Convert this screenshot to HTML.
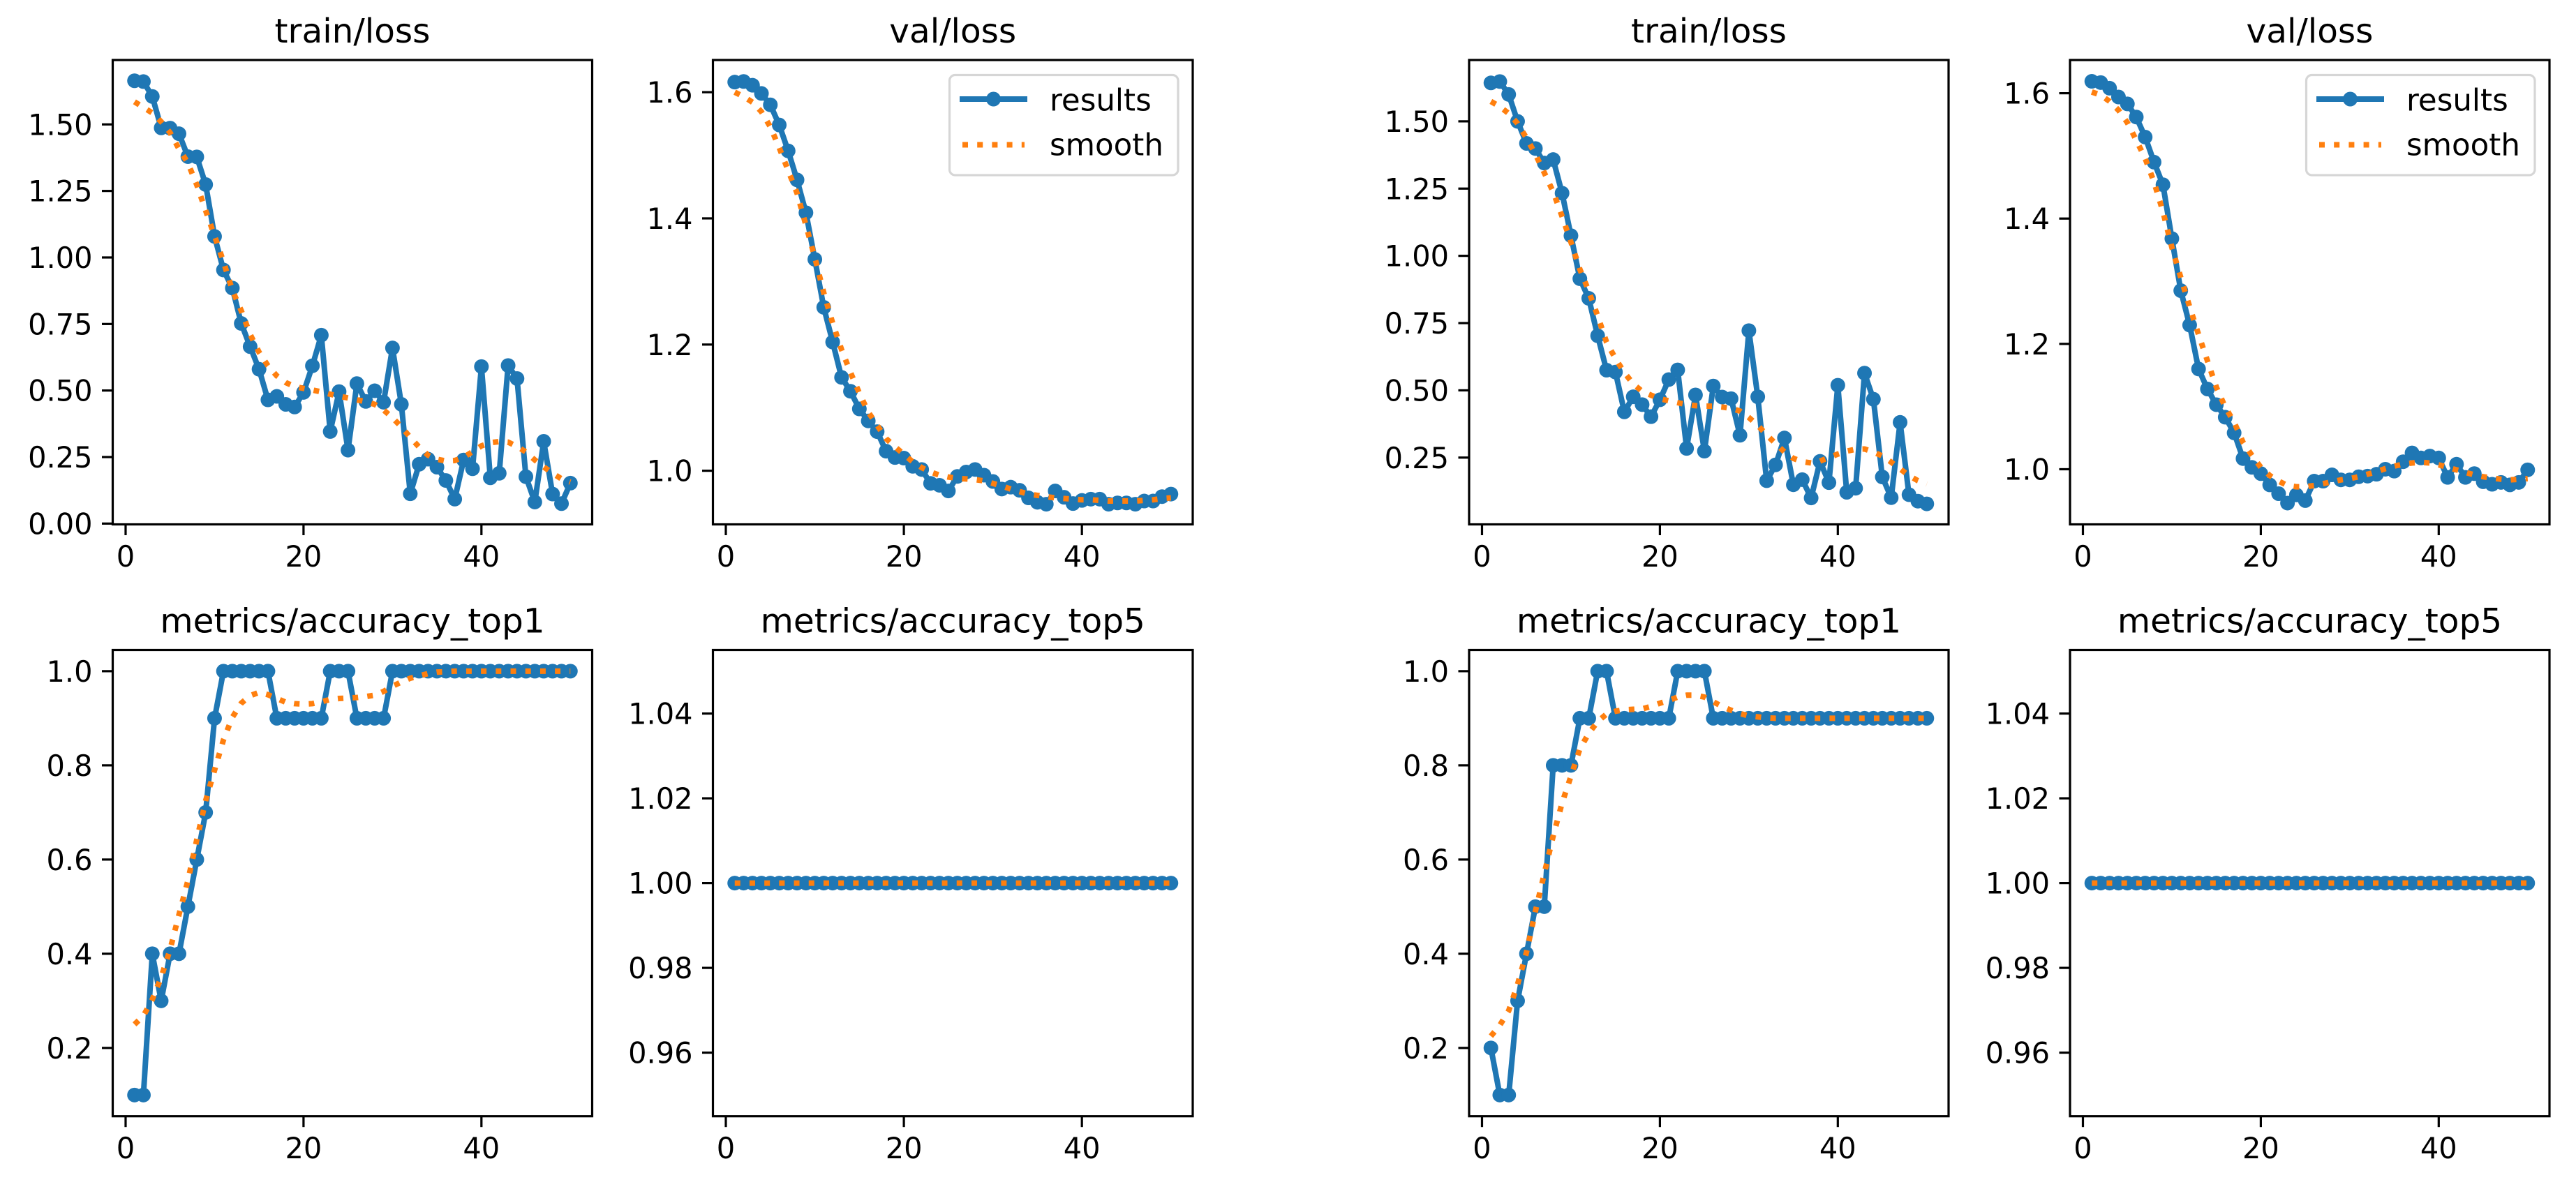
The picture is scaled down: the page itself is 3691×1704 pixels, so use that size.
<!DOCTYPE html>
<html lang="en">
<head>
<meta charset="utf-8">
<title>Training results comparison</title>
<style>
html,body{margin:0;padding:0;background:#fff;width:3691px;height:1704px;overflow:hidden}
svg{display:block}
text{font-family:"DejaVu Sans","Liberation Sans",sans-serif;fill:#000}
</style>
</head>
<body>
<svg id="chart" xmlns="http://www.w3.org/2000/svg" width="3691" height="1704" viewBox="0 0 3691 1704"></svg>
<script>
const epochs = [1,2,3,4,5,6,7,8,9,10,11,12,13,14,15,16,17,18,19,20,21,22,23,24,25,26,27,28,29,30,31,32,33,34,35,36,37,38,39,40,41,42,43,44,45,46,47,48,49,50];
const xTickLabels = ['0','20','40'];

const trainLossA = [1.664,1.661,1.605,1.487,1.486,1.465,1.379,1.378,1.274,1.079,.953,.885,.752,.665,.580,.465,.478,.448,.438,.493,.593,.708,.346,.496,.276,.526,.459,.499,.456,.660,.448,.112,.223,.242,.212,.162,.092,.239,.206,.590,.172,.189,.594,.545,.176,.081,.309,.111,.075,.152];
const trainLossSmoothA = [1.585,1.564,1.543,1.510,1.469,1.408,1.355,1.273,1.176,1.081,.984,.877,.800,.711,.644,.593,.555,.530,.515,.508,.502,.495,.486,.479,.472,.465,.458,.448,.427,.398,.363,.324,.287,.257,.242,.235,.237,.249,.270,.292,.304,.308,.306,.290,.269,.239,.213,.189,.168,.156];
const valLossA = [1.616,1.617,1.611,1.598,1.580,1.548,1.507,1.461,1.409,1.335,1.259,1.204,1.148,1.126,1.098,1.079,1.062,1.031,1.021,1.020,1.007,1.002,.980,.977,.968,.991,.998,1.002,.993,.983,.971,.974,.969,.957,.950,.947,.968,.958,.948,.953,.955,.955,.947,.949,.949,.947,.952,.952,.959,.963];
const valLossSmoothA = [1.600,1.593,1.584,1.569,1.545,1.512,1.476,1.440,1.389,1.338,1.282,1.234,1.192,1.156,1.123,1.093,1.072,1.051,1.038,1.026,1.014,1.005,.998,.993,.990,.988,.987,.986,.984,.980,.976,.971,.967,.963,.961,.959,.957,.956,.955,.954,.954,.953,.952,.952,.952,.952,.953,.954,.956,.957];
const top1A = [.1,.1,.4,.3,.4,.4,.5,.6,.7,.9,1,1,1,1,1,1,.9,.9,.9,.9,.9,.9,1,1,1,.9,.9,.9,.9,1,1,1,1,1,1,1,1,1,1,1,1,1,1,1,1,1,1,1,1,1];
const top1SmoothA = [.250,.268,.303,.350,.409,.483,.555,.642,.725,.790,.854,.902,.932,.948,.955,.950,.942,.934,.931,.930,.931,.935,.940,.942,.943,.944,.946,.949,.957,.968,.977,.985,.990,.995,.998,.999,1,1,1,1,1,1,1,1,1,1,1,1,1,1];
const top5A = [1,1,1,1,1,1,1,1,1,1,1,1,1,1,1,1,1,1,1,1,1,1,1,1,1,1,1,1,1,1,1,1,1,1,1,1,1,1,1,1,1,1,1,1,1,1,1,1,1,1];
const top5SmoothA = [1,1,1,1,1,1,1,1,1,1,1,1,1,1,1,1,1,1,1,1,1,1,1,1,1,1,1,1,1,1,1,1,1,1,1,1,1,1,1,1,1,1,1,1,1,1,1,1,1,1];

const trainLossB = [1.643,1.648,1.600,1.500,1.418,1.399,1.345,1.358,1.233,1.075,.915,.842,.703,.575,.568,.420,.476,.447,.402,.465,.540,.576,.284,.483,.274,.516,.475,.469,.333,.722,.476,.164,.223,.323,.149,.168,.100,.236,.157,.519,.121,.136,.564,.467,.178,.101,.381,.112,.088,.078];
const trainLossSmoothB = [1.574,1.555,1.529,1.492,1.438,1.378,1.309,1.238,1.147,1.051,.950,.869,.777,.679,.618,.566,.524,.496,.482,.469,.461,.454,.447,.443,.441,.441,.438,.433,.423,.399,.370,.334,.302,.271,.247,.235,.230,.237,.250,.263,.274,.281,.282,.271,.256,.233,.208,.183,.164,.152];
const valLossB = [1.619,1.617,1.608,1.594,1.583,1.562,1.530,1.490,1.454,1.368,1.285,1.230,1.160,1.128,1.103,1.083,1.058,1.017,1.003,.993,.975,.961,.946,.959,.950,.981,.981,.991,.983,.983,.988,.989,.992,1.000,.997,1.012,1.026,1.018,1.021,1.018,.987,1.008,.987,.993,.980,.976,.979,.975,.979,.999];
const valLossSmoothB = [1.602,1.597,1.587,1.573,1.553,1.525,1.496,1.458,1.411,1.354,1.306,1.259,1.215,1.173,1.131,1.099,1.075,1.043,1.022,1.003,.990,.981,.974,.972,.972,.974,.977,.980,.983,.985,.988,.992,.996,1.001,1.005,1.008,1.010,1.011,1.010,1.007,1.003,.999,.995,.991,.988,.986,.984,.983,.984,.985];
const top1B = [.2,.1,.1,.3,.4,.5,.5,.8,.8,.8,.9,.9,1,1,.9,.9,.9,.9,.9,.9,.9,1,1,1,1,.9,.9,.9,.9,.9,.9,.9,.9,.9,.9,.9,.9,.9,.9,.9,.9,.9,.9,.9,.9,.9,.9,.9,.9,.9];
const top1SmoothB = [.225,.248,.279,.335,.403,.490,.570,.650,.720,.777,.835,.868,.893,.909,.915,.918,.919,.920,.925,.932,.938,.945,.949,.949,.945,.935,.925,.917,.910,.905,.903,.901,.900,.900,.900,.900,.900,.900,.900,.900,.900,.900,.900,.900,.900,.900,.900,.900,.900,.900];
const top5B = [1,1,1,1,1,1,1,1,1,1,1,1,1,1,1,1,1,1,1,1,1,1,1,1,1,1,1,1,1,1,1,1,1,1,1,1,1,1,1,1,1,1,1,1,1,1,1,1,1,1];
const top5SmoothB = [1,1,1,1,1,1,1,1,1,1,1,1,1,1,1,1,1,1,1,1,1,1,1,1,1,1,1,1,1,1,1,1,1,1,1,1,1,1,1,1,1,1,1,1,1,1,1,1,1,1];

const trainTicksA = ['0.00','0.25','0.50','0.75','1.00','1.25','1.50'];
const trainTicksB = ['0.25','0.50','0.75','1.00','1.25','1.50'];
const valTicks = ['1.0','1.2','1.4','1.6'];
const top1Ticks = ['0.2','0.4','0.6','0.8','1.0'];
const top5Ticks = ['0.96','0.98','1.00','1.02','1.04'];

const SVG_NS = 'http://www.w3.org/2000/svg';
const chart = document.getElementById('chart');
const BLUE = '#1f77b4';
const ORANGE = '#ff7f0e';
const TICK_FONT = 41.5;
const TITLE_FONT = 48.5;
const LEGEND_FONT = 43.5;

function svgEl(tag, parent, props) {
  const el = document.createElementNS(SVG_NS, tag);
  for (const k in props) el.setAttribute(k, props[k]);
  parent.appendChild(el);
  return el;
}

function makeXScale(left, right) {
  const lo = 1 - 2.45, hi = 50 + 2.45;
  return v => left + (v - lo) / (hi - lo) * (right - left);
}
function makeYScale(top, bottom, lo, hi) {
  return v => bottom - (v - lo) / (hi - lo) * (bottom - top);
}

function drawPanel(slug, title, left, right, top, bottom, yLo, yHi, yTicks, results, smooth, withLegend) {
  const x = makeXScale(left, right);
  const y = makeYScale(top, bottom, yLo, yHi);
  const g = svgEl('g', chart, {});
  
  

  const titleEl = svgEl('text', g, {x: (left + right) / 2, y: top - 25, 'text-anchor': 'middle', 'font-size': TITLE_FONT});
  titleEl.textContent = title;
  
  

  const pts = epochs.map((e, i) => x(e).toFixed(2) + ',' + y(results[i]).toFixed(2)).join(' ');
  const line = svgEl('polyline', g, {points: pts, fill: 'none', stroke: BLUE, 'stroke-width': 8, 'stroke-linejoin': 'round', 'stroke-linecap': 'square'});
  
  

  epochs.forEach((e, i) => {
    const dot = svgEl('circle', g, {cx: x(e).toFixed(2), cy: y(results[i]).toFixed(2), r: 10.5, fill: BLUE});
    
    
  });

  const spts = epochs.map((e, i) => x(e).toFixed(2) + ',' + y(smooth[i]).toFixed(2)).join(' ');
  const sline = svgEl('polyline', g, {points: spts, fill: 'none', stroke: ORANGE, 'stroke-width': 8, 'stroke-dasharray': '8 13.2', 'stroke-linejoin': 'round'});
  
  

  xTickLabels.forEach(label => {
    const px = x(parseFloat(label));
    const tick = svgEl('line', g, {x1: px, x2: px, y1: bottom, y2: bottom + 15.5, stroke: '#000', 'stroke-width': 3.2});
    
    
    const t = svgEl('text', g, {x: px, y: bottom + 60.5, 'text-anchor': 'middle', 'font-size': TICK_FONT});
    t.textContent = label;
    
    
  });

  yTicks.forEach(label => {
    const py = y(parseFloat(label));
    const tick = svgEl('line', g, {x1: left - 15.5, x2: left, y1: py, y2: py, stroke: '#000', 'stroke-width': 3.2});
    
    
    const t = svgEl('text', g, {x: left - 29, y: py + 15, 'text-anchor': 'end', 'font-size': TICK_FONT});
    t.textContent = label;
    
    
  });

  const frame = svgEl('rect', g, {x: left, y: top, width: right - left, height: bottom - top, fill: 'none', stroke: '#000', 'stroke-width': 3.2});
  
  

  if (withLegend) {
    const lx = right - 348.5;
    const lg = svgEl('g', g, {});
    
    
    const box = svgEl('rect', lg, {x: lx, y: top + 21.5, width: 327.5, height: 143.5, rx: 8, ry: 8, fill: '#fff', 'fill-opacity': 0.8, stroke: '#d6d6d6', 'stroke-width': 3.2});
    
    
    const l1 = svgEl('line', lg, {x1: lx + 18.5, x2: lx + 107.5, y1: top + 56, y2: top + 56, stroke: BLUE, 'stroke-width': 8, 'stroke-linecap': 'square'});
    
    
    const m1 = svgEl('circle', lg, {cx: lx + 63, cy: top + 56, r: 10.5, fill: BLUE});
    
    
    const t1 = svgEl('text', lg, {x: lx + 143.5, y: top + 72.5, 'font-size': LEGEND_FONT});
    t1.textContent = 'results';
    
    
    const l2 = svgEl('line', lg, {x1: lx + 18.5, x2: lx + 107.5, y1: top + 121.5, y2: top + 121.5, stroke: ORANGE, 'stroke-width': 8, 'stroke-dasharray': '8 13.2'});
    
    
    const t2 = svgEl('text', lg, {x: lx + 143.5, y: top + 136.5, 'font-size': LEGEND_FONT});
    t2.textContent = 'smooth';
    
    
  }
}

const R1T = 86, R1B = 751.5, R2T = 931.5, R2B = 1599.7;

drawPanel('train-loss-panel-a', 'train/loss', 161.5, 848.5, R1T, R1B, -0.003, 1.742, trainTicksA, trainLossA, trainLossSmoothA, false);
drawPanel('val-loss-panel-a', 'val/loss', 1021.5, 1709, R1T, R1B, 0.915, 1.651, valTicks, valLossA, valLossSmoothA, true);
drawPanel('accuracy-top1-panel-a', 'metrics/accuracy_top1', 161.5, 848.5, R2T, R2B, 0.055, 1.045, top1Ticks, top1A, top1SmoothA, false);
drawPanel('accuracy-top5-panel-a', 'metrics/accuracy_top5', 1021.5, 1709, R2T, R2B, 0.945, 1.055, top5Ticks, top5A, top5SmoothA, false);

drawPanel('train-loss-panel-b', 'train/loss', 2105, 2792, R1T, R1B, 0.0017, 1.728, trainTicksB, trainLossB, trainLossSmoothB, false);
drawPanel('val-loss-panel-b', 'val/loss', 2966, 3653, R1T, R1B, 0.912, 1.653, valTicks, valLossB, valLossSmoothB, true);
drawPanel('accuracy-top1-panel-b', 'metrics/accuracy_top1', 2105, 2792, R2T, R2B, 0.055, 1.045, top1Ticks, top1B, top1SmoothB, false);
drawPanel('accuracy-top5-panel-b', 'metrics/accuracy_top5', 2966, 3653, R2T, R2B, 0.945, 1.055, top5Ticks, top5B, top5SmoothB, false);
</script>
</body>
</html>
